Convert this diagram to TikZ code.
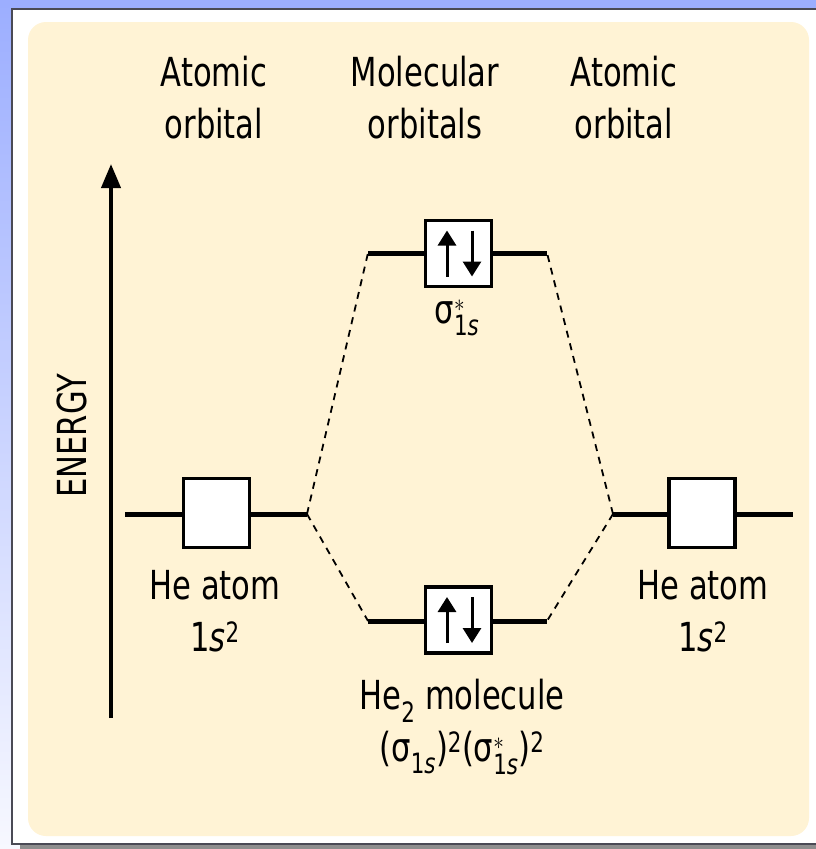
\documentclass[tikz,border=0pt]{standalone}
\usepackage{amsmath}
\usepackage{fontspec}
\setmainfont{DejaVu Sans Condensed}
\usetikzlibrary{arrows.meta}
\definecolor{PanelCream}{HTML}{FFF3D5}
\definecolor{FrameBlue}{HTML}{9CAEFF}
\definecolor{FramePale}{HTML}{F7F8FF}
\definecolor{FrameEdge}{HTML}{4A4A55}
\definecolor{FrameShadow}{HTML}{8E8E8E}
\newcommand{\sigmaorb}{$\text{σ}_{\text{1\textit{s}}}$}
\newcommand{\sigmastar}{$\text{σ}^{*}_{\text{1\textit{s}}}$}

\begin{document}
\begin{tikzpicture}[x=1pt,y=-1pt,
    level/.style={line width=5pt},
    orbbox/.style={draw,fill=white,line width=3.5pt,minimum width=66pt,minimum height=66pt,inner sep=0pt},
    spin/.style={line width=3pt,-{Triangle[width=18pt,length=15pt]}},
    link/.style={line width=1.8pt,dash pattern=on 7pt off 6pt},
    orbtext/.style={font=\fontsize{40}{52}\selectfont,align=center,inner sep=0pt,xscale=0.85}]
    \useasboundingbox (0,0) rectangle (816,849);
    \fill[FramePale] (0,0) rectangle (816,849);
    \shade[top color=FrameBlue,bottom color=FramePale] (0,0) rectangle (12,849);
    \fill[FrameBlue] (0,0) rectangle (816,8);
    \fill[FrameShadow] (20,845) rectangle (816,849);
    \filldraw[fill=white,draw=FrameEdge,line width=1.5pt] (12,9) rectangle (820,844);
    \fill[PanelCream,rounded corners=18pt] (28,22) rectangle (809,836);

    \coordinate (axisfoot) at (111,718);
    \coordinate (axistip) at (111,164);
    \draw[line width=4pt,-{Triangle[width=19pt,length=24pt]}] (axisfoot) -- (axistip);
    \node[rotate=90,orbtext] (energy) at (72,436) {ENERGY};

    \coordinate (aoL-a) at (125,514);
    \coordinate (aoL-b) at (307,514);
    \coordinate (aoR-a) at (613,514);
    \coordinate (aoR-b) at (793,514);
    \coordinate (anti-a) at (368,253);
    \coordinate (anti-b) at (547,253);
    \coordinate (bond-a) at (368,621);
    \coordinate (bond-b) at (547,621);

    \draw[link] (aoL-b) -- (anti-a);
    \draw[link] (aoL-b) -- (bond-a);
    \draw[link] (aoR-a) -- (anti-b);
    \draw[link] (aoR-a) -- (bond-b);

    \foreach \lv in {aoL,aoR,anti,bond}
      \draw[level] (\lv-a) -- (\lv-b);

    \node[orbbox,minimum height=69pt] (aoL) at (216.5,513) {};
    \node[orbbox,minimum height=69pt] (aoR) at (702,513) {};
    \node[orbbox] (anti) at (458.5,253.5) {};
    \node[orbbox] (bond) at (458.5,620) {};
    \foreach \mo in {anti,bond} {
      \draw[spin] ([shift={(-11.5,23)}]\mo.center) -- ([shift={(-11.5,-23)}]\mo.center);
      \draw[spin] ([shift={(13.5,-23)}]\mo.center) -- ([shift={(13.5,23)}]\mo.center);
    }

    \node[orbtext] (hdAOL) at (214,98) {Atomic\\orbital};
    \node[orbtext] (hdMO) at (425,98) {Molecular\\orbitals};
    \node[orbtext] (hdAOR) at (624,98) {Atomic\\orbital};
    \node[orbtext] (antilab) at (457,318) {\sigmastar};
    \node[orbtext] (heL) at (215,611) {He atom\\1\textit{s}\textsuperscript{2}};
    \node[orbtext] (heR) at (703,611) {He atom\\1\textit{s}\textsuperscript{2}};
    \node[orbtext] (he2) at (462,727) {He\textsubscript{2} molecule\\(\sigmaorb)\textsuperscript{2}(\sigmastar)\textsuperscript{2}};
\end{tikzpicture}
\end{document}
